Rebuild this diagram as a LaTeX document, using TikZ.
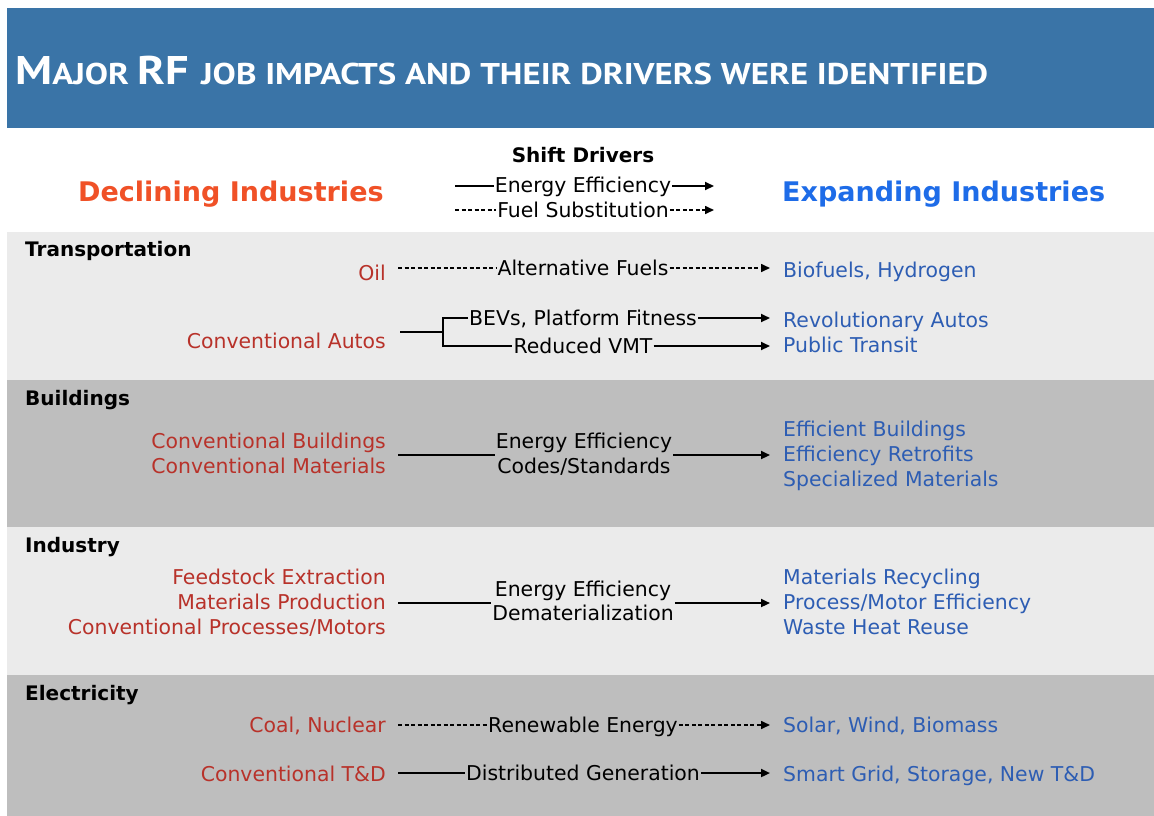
\documentclass[tikz,border=0pt]{standalone}
\usepackage{fontspec}
\setmainfont{DejaVu Sans}
\newfontfamily\titlefont{PT Sans}
\usetikzlibrary{arrows.meta}
\definecolor{titleblue}{HTML}{3A74A7}
\definecolor{lightband}{HTML}{EBEBEB}
\definecolor{darkband}{HTML}{BEBEBE}
\definecolor{declred}{HTML}{F05127}
\definecolor{expblue}{HTML}{1E6CE8}
\definecolor{redtxt}{HTML}{B8322A}
\definecolor{bluetxt}{HTML}{2D5DB3}
\begin{document}
\begin{tikzpicture}[x=1pt,y=-1pt,
  txt/.style={inner sep=0pt, font=\fontsize{20.4}{25}\selectfont, text height=14pt, text depth=0pt},
  decl/.style={txt, text=redtxt, anchor=base east},
  drv/.style={txt, inner xsep=1pt, anchor=base},
  expd/.style={txt, text=bluetxt, anchor=base west},
  sect/.style={inner sep=0pt, font=\bfseries\fontsize{20}{25}\selectfont, anchor=base west},
  hdr/.style={inner sep=0pt, font=\bfseries\fontsize{27}{30}\selectfont, anchor=base west},
  solidl/.style={line width=2.2pt},
  dashl/.style={line width=1.6pt, dash pattern=on 4pt off 2.5pt},
  arr/.style={-{Triangle[length=9pt,width=8pt]}},
  gapstart/.style={shorten <=12pt},
  gapend/.style={shorten >=13pt}]
\useasboundingbox (0,0) rectangle (1154,816);
\fill[white] (0,0) rectangle (1154,816);
% bands
\fill[titleblue] (7,8) rectangle (1154,128);
\fill[lightband] (7,232) rectangle (1154,380);
\fill[darkband] (7,380) rectangle (1154,527);
\fill[lightband] (7,527) rectangle (1154,675);
\fill[darkband] (7,675) rectangle (1154,816);
% title
\node[anchor=base west, inner sep=0pt, text=white] (title) at (15,84)
  {\resizebox{973pt}{\height}{\titlefont\bfseries\fontsize{40}{42}\selectfont M\fontsize{30}{32}\selectfont AJOR \fontsize{40}{42}\selectfont RF \fontsize{30}{32}\selectfont JOB IMPACTS AND THEIR DRIVERS WERE IDENTIFIED}};
% header
\node[hdr, text=declred] (decl) at (78,201) {Declining Industries};
\node[hdr, text=expblue] (expd) at (782,201) {Expanding Industries};
\node[inner sep=0pt, font=\bfseries\fontsize{20}{25}\selectfont, anchor=base] (shift) at (583,162) {Shift Drivers};
\node[drv] (legee) at (583,192) {Energy Efficiency};
\node[drv] (legfs) at (583,217) {Fuel Substitution};
\coordinate (legs1) at (455,186);
\coordinate (lege1) at (714,186);
\coordinate (legs2) at (455,210);
\coordinate (lege2) at (714,210);
\draw[solidl] (legs1) -- (legee.west |- legs1);
\draw[solidl, arr] (legee.east |- lege1) -- (lege1);
\draw[dashl] (legs2) -- (legfs.west |- legs2);
\draw[dashl, arr] (legfs.east |- lege2) -- (lege2);
% sections
\node[sect] (s1) at (25,256) {Transportation};
\node[sect] (s2) at (25,405) {Buildings};
\node[sect] (s3) at (25,552) {Industry};
\node[sect] (s4) at (25,700) {Electricity};
% Transportation
\node[decl] (oil) at (386,280) {Oil};
\node[drv] (altf) at (583,275) {Alternative Fuels};
\node[expd] (biof) at (783,277) {Biofuels, Hydrogen};
\draw[dashl, gapstart] (oil.east |- altf.west) -- (altf.west);
\draw[dashl, arr, gapend] (altf.east) -- (biof.west |- altf.east);
\node[decl] (autos) at (386,348) {Conventional Autos};
\node[drv] (bevs) at (583,325) {BEVs, Platform Fitness};
\node[drv] (vmt) at (583,353) {Reduced VMT};
\node[expd] (revo) at (783,327) {Revolutionary Autos};
\node[expd] (transit) at (783,352) {Public Transit};
\coordinate (fork) at (443,332);
\draw[solidl, shorten <=14pt] (autos.east |- fork) -- (fork);
\draw[solidl] (bevs.west) -| (fork |- vmt.west) -- (vmt.west);
\draw[solidl, arr, gapend] (bevs.east) -- (revo.west |- bevs.east);
\draw[solidl, arr, gapend] (vmt.east) -- (transit.west |- vmt.east);
% Buildings
\node[decl] (cb) at (386,448) {Conventional Buildings};
\node[decl] (cm) at (386,473) {Conventional Materials};
\node[drv] (bee) at (584,448) {Energy Efficiency};
\node[drv] (bcs) at (584,473) {Codes/Standards};
\node[expd] (eb) at (783,436) {Efficient Buildings};
\node[expd] (er) at (783,461) {Efficiency Retrofits};
\node[expd] (sm) at (783,486) {Specialized Materials};
\coordinate (brow) at (0,455);
\draw[solidl, gapstart] (cb.east |- brow) -- (bee.west |- brow);
\draw[solidl, arr, gapend] (bee.east |- brow) -- (er.west |- brow);
% Industry
\node[decl] (fe) at (386,584) {Feedstock Extraction};
\node[decl] (mp) at (386,609) {Materials Production};
\node[decl] (cp) at (386,634) {Conventional Processes/Motors};
\node[drv] (iee) at (583,596) {Energy Efficiency};
\node[drv] (dem) at (583,620) {Dematerialization};
\node[expd] (mr) at (783,584) {Materials Recycling};
\node[expd] (pme) at (783,609) {Process/Motor Efficiency};
\node[expd] (whr) at (783,634) {Waste Heat Reuse};
\coordinate (irow) at (0,603);
\draw[solidl, gapstart] (mp.east |- irow) -- (dem.west |- irow);
\draw[solidl, arr, gapend] (dem.east |- irow) -- (pme.west |- irow);
% Electricity
\node[decl] (coal) at (386,732) {Coal, Nuclear};
\node[drv] (ren) at (583,732) {Renewable Energy};
\node[expd] (swb) at (783,732) {Solar, Wind, Biomass};
\draw[dashl, gapstart] (coal.east |- ren.west) -- (ren.west);
\draw[dashl, arr, gapend] (ren.east) -- (swb.west |- ren.east);
\node[decl] (ctd) at (386,781) {Conventional T\&D};
\node[drv] (dg) at (583,780) {Distributed Generation};
\node[expd] (sg) at (783,781) {Smart Grid, Storage, New T\&D};
\draw[solidl, gapstart] (ctd.east |- dg.west) -- (dg.west);
\draw[solidl, arr, gapend] (dg.east) -- (sg.west |- dg.east);
\end{tikzpicture}
\end{document}
